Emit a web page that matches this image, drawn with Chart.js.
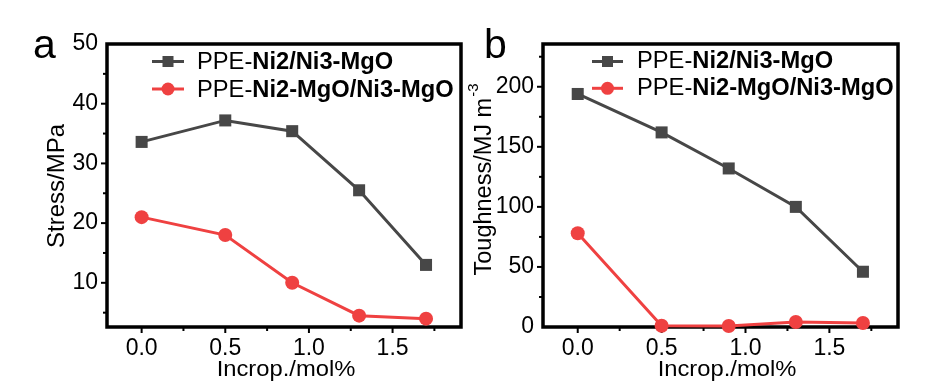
<!DOCTYPE html>
<html><head><meta charset="utf-8">
<script src="https://cdn.jsdelivr.net/npm/chart.js@4.4.1/dist/chart.umd.min.js"></script>
<style>
html,body{margin:0;padding:0;background:#fff;width:931px;height:383px;overflow:hidden}
#wa{position:absolute;left:0;top:0;width:470px;height:383px}
#wb{position:absolute;left:455px;top:0;width:476px;height:383px}
canvas{display:block}
</style></head><body>
<div id="wa"><canvas id="ca" width="470" height="383"></canvas></div>
<div id="wb"><canvas id="cb" width="476" height="383"></canvas></div>
<script>
// ---- data ----
const incrop = [0, 0.5, 0.9, 1.3, 1.7];
const stressNi2Ni3 = [33.6, 37.2, 35.4, 25.5, 13.0];
const stressNi2MgO = [21.0, 18.0, 10.0, 4.5, 4.0];
const toughNi2Ni3 = [194, 162, 132, 100, 46];
const toughNi2MgO = [78, 1.0, 0.8, 4.2, 3.3];
const xTicks = [0, 0.5, 1.0, 1.5];
const xMinorTicks = [0.25, 0.75, 1.25, 1.75];
const stressTicks = [10, 20, 30, 40, 50];
const stressMinorTicks = [5, 15, 25, 35, 45];
const toughTicks = [0, 50, 100, 150, 200];
const toughMinorTicks = [25, 75, 125, 175, 225];
const seriesPrefix = 'PPE-';
const seriesNames = ['Ni2/Ni3-MgO', 'Ni2-MgO/Ni3-MgO'];
const xTitle = 'Incrop./mol%';
const stressTitle = 'Stress/MPa';
const toughTitle = 'Toughness/MJ m';
const toughTitleSup = '-3';

const GRAY = '#474747', RED = '#ef4141';
const FONT = '"Liberation Sans", Arial, sans-serif';

function stretchText(ctx, text, x, y, sx) {
  const w = ctx.measureText(text).width * sx;
  ctx.save(); ctx.translate(x, y); ctx.scale(sx, 1); ctx.fillText(text, 0, 0); ctx.restore();
  return w;
}

const decoPlugin = {
  id: 'deco',
  beforeDatasetsDraw(chart) {
    const c = chart.options.plugins.deco; if (!c) return;
    const ctx = chart.ctx, a = chart.chartArea;
    const xs = chart.scales.x, ys = chart.scales.y;
    ctx.save();
    ctx.strokeStyle = '#000'; ctx.lineWidth = 3.5;
    ctx.strokeRect(a.left, a.top, a.right - a.left, a.bottom - a.top);
    ctx.lineWidth = 2;
    const tick = (x1, y1, x2, y2) => { ctx.beginPath(); ctx.moveTo(x1, y1); ctx.lineTo(x2, y2); ctx.stroke(); };
    xTicks.forEach(v => { const p = xs.getPixelForValue(v); tick(p, a.bottom, p, a.bottom + 6); });
    xMinorTicks.forEach(v => { if (v > xs.min && v < xs.max) { const p = xs.getPixelForValue(v); tick(p, a.bottom, p, a.bottom + 4); } });
    c.yMajor.forEach(v => { if (v > ys.min && v < ys.max) { const p = ys.getPixelForValue(v); tick(a.left, p, a.left - 6, p); } });
    c.yMinor.forEach(v => { if (v > ys.min && v < ys.max) { const p = ys.getPixelForValue(v); tick(a.left, p, a.left - 4, p); } });
    ctx.restore();
  },
  afterDraw(chart) {
    const c = chart.options.plugins.deco; if (!c) return;
    const ctx = chart.ctx, o = c.off;
    ctx.save();
    ctx.fillStyle = '#000';
    // panel label
    ctx.font = '41px ' + FONT; ctx.textAlign = 'left'; ctx.textBaseline = 'alphabetic';
    ctx.fillText(c.panel, c.panelX - o, 58);
    // x title
    ctx.font = '22px ' + FONT; ctx.textAlign = 'left';
    const wx = ctx.measureText(xTitle).width * 1.08;
    stretchText(ctx, xTitle, c.xTitleX - o - wx / 2, 376, 1.08);
    // y title (rotated)
    ctx.save();
    ctx.translate(c.yTitleX - o, c.yTitleY);
    ctx.rotate(-Math.PI / 2);
    ctx.font = c.yFont + 'px ' + FONT;
    const wy = ctx.measureText(c.yTitle).width;
    let supW = 0;
    if (c.ySup) { ctx.font = '15px ' + FONT; supW = ctx.measureText(c.ySup).width; ctx.font = c.yFont + 'px ' + FONT; }
    const start = -(wy + supW) / 2;
    ctx.textAlign = 'left'; ctx.textBaseline = 'alphabetic';
    ctx.fillText(c.yTitle, start, 0);
    if (c.ySup) { ctx.font = '15px ' + FONT; ctx.fillText(c.ySup, start + wy + 1, -13); }
    ctx.restore();
    // legend
    const L = c.legend;
    [GRAY, RED].forEach((col, i) => {
      const cy = L.cy[i];
      ctx.strokeStyle = col; ctx.lineWidth = 3;
      ctx.beginPath(); ctx.moveTo(L.x0 - o, cy); ctx.lineTo(L.x1 - o, cy); ctx.stroke();
      ctx.fillStyle = col;
      const mx = (L.x0 + L.x1) / 2 - o;
      if (i === 0) ctx.fillRect(mx - 5.5, cy - 5.5, 11, 11);
      else { ctx.beginPath(); ctx.arc(mx, cy, 6.5, 0, Math.PI * 2); ctx.fill(); }
      ctx.fillStyle = '#000'; ctx.textAlign = 'left'; ctx.textBaseline = 'alphabetic';
      ctx.font = '23px ' + FONT;
      let x = L.tx - o;
      x += stretchText(ctx, seriesPrefix, x, L.base[i], 1.03);
      ctx.font = 'bold 23px ' + FONT;
      stretchText(ctx, seriesNames[i], x, L.base[i], 1.03);
    });
    ctx.restore();
  }
};

function makeChart(id, s1, s2, yMin, yMax, yTicks, deco, yWidth, rightPad) {
  const pts = arr => incrop.map((x, i) => ({ x: x, y: arr[i] }));
  return new Chart(document.getElementById(id), {
    type: 'line',
    data: {
      datasets: [
        { data: pts(s1), borderColor: GRAY, backgroundColor: GRAY, borderWidth: 3, pointStyle: 'rect', pointRadius: 8.5, pointBorderWidth: 0, pointHoverRadius: 8.5, clip: false, tension: 0 },
        { data: pts(s2), borderColor: RED, backgroundColor: RED, borderWidth: 3, pointStyle: 'circle', pointRadius: 7, pointBorderWidth: 0, pointHoverRadius: 7, clip: false, tension: 0 }
      ]
    },
    options: {
      responsive: false, animation: false, devicePixelRatio: 1,
      layout: { padding: { top: 44, right: rightPad, left: 0, bottom: 0 } },
      plugins: { legend: { display: false }, tooltip: { enabled: false }, deco: deco },
      scales: {
        x: {
          type: 'linear', min: -0.207, max: 1.909,
          grid: { display: false, drawTicks: false }, border: { display: false },
          afterBuildTicks: s => { s.ticks = xTicks.map(v => ({ value: v })); },
          afterFit: s => { s.height = 56; },
          ticks: { padding: 8, color: '#000', font: { family: FONT, size: 23 }, maxRotation: 0, callback: v => v.toFixed(1) }
        },
        y: {
          type: 'linear', min: yMin, max: yMax,
          grid: { display: false, drawTicks: false }, border: { display: false },
          afterBuildTicks: s => { s.ticks = yTicks.map(v => ({ value: v })); },
          afterFit: s => { s.width = yWidth; },
          ticks: { padding: 9, color: '#000', font: { family: FONT, size: 23 }, callback: v => String(v) }
        }
      }
    },
    plugins: [decoPlugin]
  });
}

makeChart('ca', stressNi2Ni3, stressNi2MgO, 2.6, 50, stressTicks, {
  off: 0, panel: 'a', panelX: 33, xTitleX: 286, yTitle: stressTitle, ySup: '', yFont: 24,
  yTitleX: 64, yTitleY: 186, yMajor: stressTicks, yMinor: stressMinorTicks,
  legend: { x0: 152, x1: 184, tx: 197, cy: [61.5, 89], base: [69.3, 96.7] }
}, 107, 9);

makeChart('cb', toughNi2Ni3, toughNi2MgO, 0, 235.6, toughTicks, {
  off: 455, panel: 'b', panelX: 484, xTitleX: 727, yTitle: toughTitle, ySup: toughTitleSup, yFont: 23.5,
  yTitleX: 490.5, yTitleY: 180, yMajor: toughTicks, yMinor: toughMinorTicks,
  legend: { x0: 592, x1: 623, tx: 637, cy: [61.5, 88.3], base: [68.3, 94.5] }
}, 88, 33);
</script>
</body></html>
